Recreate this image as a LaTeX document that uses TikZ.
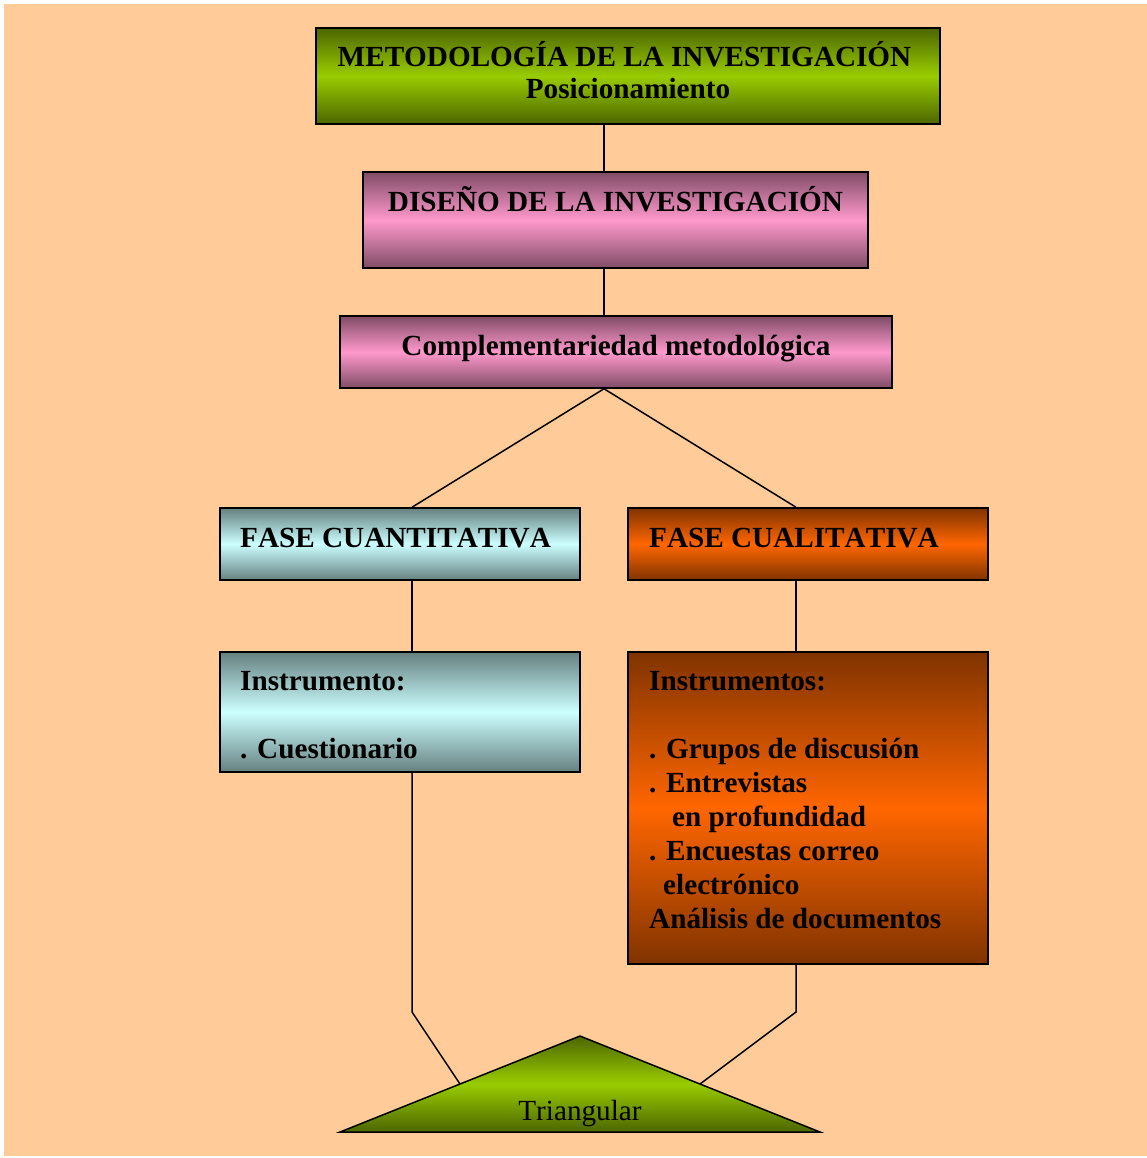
\documentclass[tikz,border=0pt]{standalone}
\usepackage{fontspec}
\setmainfont{Liberation Serif}[Kerning=Off]
\usetikzlibrary{calc}

\definecolor{peach}{HTML}{FFCC99}
\definecolor{olivedark}{HTML}{4C6600}
\definecolor{limegreen}{HTML}{99CC00}
\definecolor{mauvedark}{HTML}{804C66}
\definecolor{pinklight}{HTML}{FF99CC}
\definecolor{tealdark}{HTML}{668080}
\definecolor{cyanlight}{HTML}{CCFFFF}
\definecolor{browndark}{HTML}{803300}
\definecolor{orangemid}{HTML}{FF6600}

\tikzset{
  box/.style={rectangle, draw=black, line width=1.5pt, inner sep=0pt},
  greenbox/.style={box, top color=olivedark, bottom color=olivedark, middle color=limegreen},
  pinkbox/.style={box, top color=mauvedark, bottom color=mauvedark, middle color=pinklight},
  cyanbox/.style={box, top color=tealdark, bottom color=tealdark, middle color=cyanlight},
  orangebox/.style={box, top color=browndark, bottom color=browndark, middle color=orangemid},
  lbl/.style={inner sep=0pt, font=\bfseries\fontsize{29.2}{34}\selectfont},
  plainlbl/.style={inner sep=0pt, font=\fontsize{29.2}{34}\selectfont},
  link/.style={draw=black, line width=1.5pt},
}

\begin{document}
\begin{tikzpicture}[x=1pt, y=-1pt]
  % page and background
  \useasboundingbox (0,0) rectangle (1147,1158);
  \fill[white] (0,0) rectangle (1147,1158);
  \fill[peach] (4,4) rectangle (1147,1156);

  % guide coordinates for the vertical connectors
  \coordinate (spine) at (604,0);
  \coordinate (lx) at (412,0);
  \coordinate (rx) at (796,0);

  % boxes
  \node[greenbox,  minimum width=624, minimum height=96]  (metodo) at (628,76)    {};
  \node[pinkbox,   minimum width=505, minimum height=96]  (diseno) at (615.5,220) {};
  \node[pinkbox,   minimum width=552, minimum height=72]  (comp)   at (616,352)   {};
  \node[cyanbox,   minimum width=360, minimum height=72]  (cuant)  at (400,544)   {};
  \node[orangebox, minimum width=360, minimum height=72]  (cual)   at (808,544)   {};
  \node[cyanbox,   minimum width=360, minimum height=120] (inst1)  at (400,712)   {};
  \node[orangebox, minimum width=360, minimum height=312] (inst2)  at (808,808)   {};

  % triangle
  \coordinate (tapex) at (580,1036);
  \coordinate (tl) at (340,1132);
  \coordinate (tr) at (820,1132);
  \coordinate (lbend) at (412,1012);
  \coordinate (rbend) at (796,1012);
  \coordinate (lhit) at ($(tl)!0.5!(tapex)$);
  \coordinate (rhit) at ($(tr)!0.5!(tapex)$);

  % connectors
  \draw[link] (metodo.south -| spine) -- (diseno.north -| spine);
  \draw[link] (diseno.south -| spine) -- (comp.north -| spine);
  \draw[link] (comp.south -| spine) -- (cuant.north -| lx);
  \draw[link] (comp.south -| spine) -- (cual.north -| rx);
  \draw[link] (cuant.south -| lx) -- (inst1.north -| lx);
  \draw[link] (cual.south -| rx) -- (inst2.north -| rx);
  \draw[link] (inst1.south -| lx) -- (lbend) -- (lhit);
  \draw[link] (inst2.south -| rx) -- (rbend) -- (rhit);

  \shadedraw[draw=black, line width=1.5pt, top color=olivedark, bottom color=olivedark, middle color=limegreen]
    (tl) -- (tapex) -- (tr) -- cycle;

  % texts
  \node[lbl, anchor=base] (metodoT1) at (624.5,67) {METODOLOGÍA DE LA INVESTIGACIÓN};
  \node[lbl, anchor=base] (metodoT2) at (628,99) {Posicionamiento};
  \node[lbl, anchor=base] (disenoT) at (615.5,212) {DISEÑO DE LA INVESTIGACIÓN};
  \node[lbl, anchor=base] (compT) at (616,355) {Complementariedad metodológica};
  \node[lbl, anchor=base west] (cuantT) at (240,547) {FASE CUANTITATIVA};
  \node[lbl, anchor=base west] (cualT) at (649,547) {FASE CUALITATIVA};
  \node[lbl, anchor=base west] (inst1T) at (240,690)
    {\begin{tabular}[t]{@{}l@{}}Instrumento:\\ \\. Cuestionario\end{tabular}};
  \node[lbl, anchor=base west] (inst2T) at (649,690)
    {\begin{tabular}[t]{@{}l@{}}Instrumentos:\\ \\
      . Grupos de discusión\\
      . Entrevistas\\
      \hspace*{23pt}en profundidad\\
      . Encuestas correo\\
      \hspace*{14pt}electrónico\\
      Análisis de documentos\end{tabular}};
  \node[plainlbl, anchor=base] (triT) at (580,1120) {Triangular};
\end{tikzpicture}
\end{document}
